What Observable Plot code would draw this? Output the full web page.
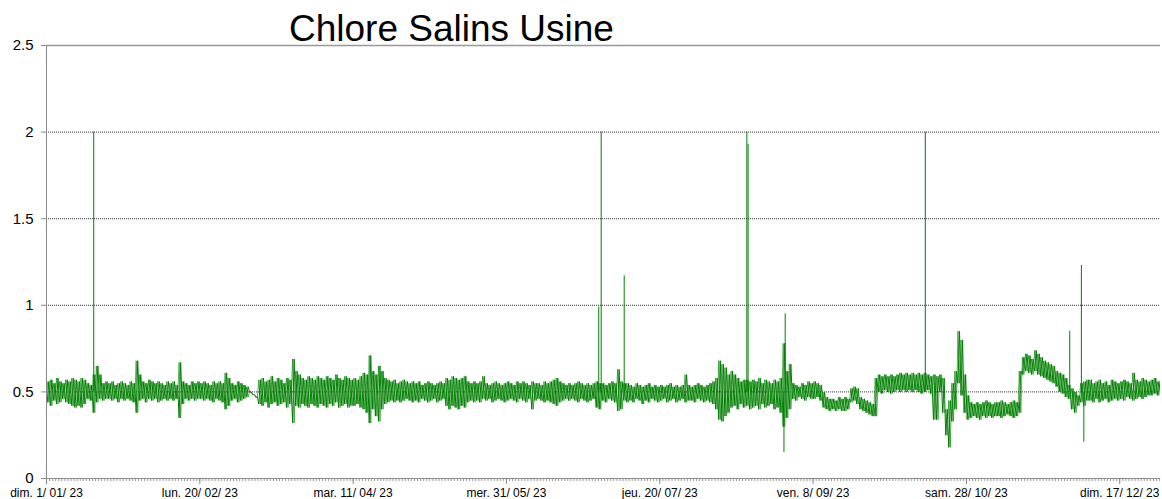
<!DOCTYPE html>
<html>
<head>
<meta charset="utf-8">
<script src="https://cdn.jsdelivr.net/npm/d3@7"></script>
<script src="https://cdn.jsdelivr.net/npm/@observablehq/plot@0.6"></script>
<style>
  html, body { margin: 0; padding: 0; background: #fff; }
  #wrap { position: relative; width: 1162px; height: 499px; }
  #title { position: absolute; left: 289px; top: 10px; font: 37px/37px "Liberation Sans", Arial, sans-serif; color: #000; white-space: nowrap; }
  #chart { position: absolute; left: 0; top: 0; }
</style>
</head>
<body>
<div id="wrap">
  <div id="chart"></div>
  <div id="title">Chlore Salins Usine</div>
</div>
<script>
// Daily high / low readings (mg/l), one pair per day from 1 Jan 2023
const dailyHigh = [
  0.56,0.57,0.55,0.58,0.56,0.55,0.57,0.56,0.58,0.57,
  0.56,0.58,0.57,0.55,0.54,0.60,0.65,0.60,0.55,0.56,
  0.55,0.56,0.54,0.55,0.56,0.55,0.54,0.56,0.55,0.68,
  0.60,0.56,0.55,0.57,0.56,0.55,0.56,0.55,0.54,0.56,
  0.55,0.56,0.54,0.67,0.56,0.55,0.54,0.56,0.55,0.56,
  0.55,0.56,0.55,0.54,0.56,0.55,0.56,0.55,0.61,0.58,
  0.55,0.54,0.56,0.55,0.54,0.53,0.50,0.485,0.47,0.57,
  0.58,0.56,0.57,0.59,0.56,0.58,0.57,0.55,0.58,0.57,
  0.69,0.62,0.60,0.58,0.57,0.59,0.58,0.57,0.59,0.58,
  0.57,0.59,0.58,0.57,0.60,0.58,0.57,0.59,0.58,0.57,
  0.58,0.57,0.59,0.61,0.60,0.71,0.62,0.60,0.65,0.62,
  0.58,0.57,0.56,0.57,0.55,0.56,0.57,0.56,0.55,0.56,
  0.55,0.56,0.54,0.55,0.56,0.55,0.54,0.55,0.56,0.55,
  0.58,0.57,0.59,0.58,0.57,0.58,0.59,0.56,0.55,0.56,
  0.55,0.56,0.59,0.55,0.54,0.55,0.56,0.55,0.54,0.55,
  0.56,0.55,0.54,0.56,0.55,0.56,0.55,0.54,0.56,0.55,
  0.55,0.54,0.56,0.55,0.56,0.57,0.58,0.56,0.55,0.54,
  0.55,0.54,0.55,0.56,0.55,0.54,0.55,0.54,0.55,0.56,
  0.55,0.55,0.54,0.55,0.56,0.55,0.63,0.56,0.55,0.55,
  0.54,0.53,0.55,0.54,0.53,0.54,0.55,0.53,0.54,0.53,
  0.54,0.53,0.54,0.55,0.53,0.54,0.53,0.54,0.60,0.54,
  0.53,0.54,0.55,0.54,0.53,0.54,0.55,0.56,0.58,0.68,
  0.66,0.64,0.60,0.62,0.60,0.58,0.56,0.57,0.57,0.56,
  0.57,0.56,0.58,0.55,0.57,0.56,0.55,0.57,0.56,0.58,
  0.78,0.62,0.66,0.55,0.54,0.53,0.55,0.54,0.56,0.55,
  0.56,0.55,0.54,0.50,0.47,0.46,0.46,0.45,0.47,0.46,
  0.47,0.46,0.52,0.53,0.52,0.47,0.46,0.45,0.44,0.43,
  0.58,0.60,0.59,0.60,0.59,0.60,0.59,0.60,0.61,0.60,
  0.61,0.60,0.61,0.60,0.61,0.60,0.61,0.60,0.59,0.60,
  0.59,0.60,0.58,0.40,0.45,0.55,0.62,0.85,0.80,0.60,
  0.48,0.44,0.43,0.44,0.43,0.44,0.45,0.44,0.43,0.44,
  0.44,0.45,0.44,0.43,0.44,0.45,0.44,0.62,0.70,0.72,
  0.71,0.69,0.74,0.72,0.70,0.68,0.67,0.66,0.65,0.62,
  0.61,0.60,0.58,0.54,0.52,0.50,0.48,0.55,0.56,0.57,
  0.57,0.55,0.56,0.57,0.55,0.56,0.54,0.57,0.56,0.55,
  0.56,0.57,0.56,0.55,0.61,0.57,0.56,0.58,0.57,0.56,
  0.57,0.58,0.56,0.57
];
const dailyLow = [
  0.44,0.42,0.45,0.43,0.44,0.46,0.44,0.43,0.42,0.41,
  0.42,0.41,0.43,0.46,0.45,0.38,0.44,0.46,0.45,0.46,
  0.46,0.45,0.46,0.44,0.46,0.45,0.46,0.45,0.44,0.38,
  0.45,0.46,0.44,0.46,0.45,0.46,0.44,0.45,0.46,0.45,
  0.46,0.45,0.46,0.35,0.43,0.46,0.45,0.46,0.45,0.46,
  0.46,0.45,0.46,0.45,0.44,0.46,0.45,0.44,0.40,0.42,
  0.45,0.46,0.44,0.45,0.46,0.47,0.50,0.485,0.47,0.43,
  0.42,0.44,0.41,0.43,0.44,0.42,0.43,0.44,0.41,0.43,
  0.32,0.42,0.41,0.43,0.42,0.41,0.43,0.42,0.41,0.43,
  0.42,0.41,0.43,0.42,0.44,0.41,0.42,0.43,0.41,0.42,
  0.42,0.43,0.41,0.40,0.38,0.32,0.40,0.36,0.33,0.40,
  0.43,0.44,0.45,0.44,0.45,0.44,0.45,0.46,0.45,0.44,
  0.45,0.44,0.46,0.45,0.44,0.45,0.46,0.44,0.45,0.46,
  0.42,0.40,0.42,0.41,0.40,0.42,0.41,0.44,0.45,0.44,
  0.45,0.44,0.46,0.45,0.46,0.44,0.45,0.46,0.45,0.44,
  0.45,0.46,0.45,0.44,0.46,0.45,0.44,0.46,0.40,0.45,
  0.46,0.45,0.44,0.45,0.44,0.43,0.42,0.44,0.45,0.46,
  0.45,0.46,0.45,0.44,0.46,0.45,0.44,0.45,0.46,0.41,
  0.40,0.45,0.44,0.46,0.45,0.44,0.39,0.40,0.45,0.44,
  0.45,0.44,0.46,0.45,0.43,0.45,0.44,0.46,0.45,0.44,
  0.45,0.46,0.44,0.45,0.46,0.44,0.45,0.46,0.44,0.45,
  0.45,0.44,0.46,0.45,0.44,0.45,0.44,0.43,0.40,0.34,
  0.33,0.36,0.38,0.41,0.42,0.40,0.43,0.41,0.42,0.40,
  0.41,0.42,0.40,0.43,0.41,0.42,0.43,0.40,0.41,0.38,
  0.30,0.35,0.40,0.46,0.45,0.47,0.46,0.45,0.47,0.46,
  0.46,0.47,0.45,0.41,0.40,0.39,0.40,0.39,0.40,0.39,
  0.39,0.40,0.44,0.45,0.43,0.40,0.39,0.38,0.37,0.36,
  0.36,0.50,0.49,0.51,0.50,0.49,0.50,0.51,0.50,0.51,
  0.50,0.51,0.50,0.51,0.50,0.49,0.50,0.51,0.49,0.34,
  0.34,0.50,0.38,0.25,0.18,0.33,0.40,0.55,0.48,0.38,
  0.34,0.35,0.36,0.35,0.34,0.36,0.35,0.36,0.35,0.36,
  0.36,0.35,0.36,0.37,0.36,0.35,0.36,0.38,0.60,0.62,
  0.61,0.60,0.62,0.60,0.59,0.58,0.57,0.56,0.55,0.53,
  0.50,0.49,0.47,0.46,0.40,0.38,0.42,0.44,0.42,0.45,
  0.45,0.44,0.46,0.44,0.45,0.46,0.44,0.45,0.46,0.45,
  0.46,0.45,0.47,0.46,0.45,0.46,0.47,0.46,0.47,0.48,
  0.48,0.49,0.48,0.50
];
// Short isolated excursions: day offset from 1 Jan (fractional) and reading
const spikeDays   = [15.4, 180.1, 180.9, 188.4, 228.4, 228.8, 240.5, 240.9, 286.6, 333.7, 337.5, 338.3];
const spikeValues = [2.00, 0.99,  2.00,  1.17,  2.00,  1.93,  0.15,  0.95,  2.00,  0.85,  1.23,  0.21];
const yTicks = [0, 0.5, 1, 1.5, 2, 2.5];
const gridValues = [0.5, 1, 1.5, 2];
const majorTickDates = ["2023-01-01","2023-02-20","2023-04-11","2023-05-31","2023-07-20","2023-09-08","2023-10-28","2023-12-17"];
const majorTickLabels = ["dim. 1/ 01/ 23","lun. 20/ 02/ 23","mar. 11/ 04/ 23","mer. 31/ 05/ 23","jeu. 20/ 07/ 23","ven. 8/ 09/ 23","sam. 28/ 10/ 23","dim. 17/ 12/ 23"];

const DAY = 864e5;
const start = Date.UTC(2023, 0, 1);
const pathA = dailyHigh.flatMap((h, i) => [
  {t: new Date(start + (i + 0.25) * DAY), v: dailyLow[i]},
  {t: new Date(start + (i + 0.75) * DAY), v: h}
]);
const pathB = dailyHigh.flatMap((h, i) => [
  {t: new Date(start + (i + 0.25) * DAY), v: h},
  {t: new Date(start + (i + 0.75) * DAY), v: dailyLow[i]}
]);
const spikes = spikeDays.map((d, i) => ({t: new Date(start + d * DAY), v: spikeValues[i]}));
const majorDates = majorTickDates.map(s => new Date(s + "T00:00:00Z"));
const labelByTime = new Map(majorDates.map((d, i) => [+d, majorTickLabels[i]]));
const xDomain = [new Date(start), new Date(start + 363.3 * DAY)];
const minorDates = d3.utcDay.range(xDomain[0], xDomain[1]);

const chart = Plot.plot({
  width: 1162,
  height: 499,
  marginLeft: 46,
  marginRight: 2,
  marginTop: 45,
  marginBottom: 21,
  style: {fontFamily: "'Liberation Sans', Arial, sans-serif", fontSize: "12px", color: "#000", background: "white"},
  x: {type: "utc", domain: xDomain},
  y: {domain: [0, 2.5]},
  marks: [
    Plot.ruleY(gridValues, {stroke: "#333", strokeWidth: 1, strokeDasharray: "1,1"}),
    Plot.ruleY([2.5], {stroke: "#999", strokeWidth: 1.5}),
    Plot.line(pathA, {x: "t", y: "v", stroke: "#008000", strokeWidth: 1, clip: true}),
    Plot.line(pathB, {x: "t", y: "v", stroke: "#0a850a", strokeWidth: 0.8, strokeOpacity: 0.85, clip: true}),
    Plot.ruleX(spikes, {x: "t", y1: 0.5, y2: "v", stroke: "#008000", strokeWidth: 1}),
    Plot.frame({anchor: "left", stroke: "#888"}),
    Plot.ruleY([0], {stroke: "#888"}),
    Plot.axisY({ticks: yTicks, tickSize: 5, tickPadding: 8, fontSize: 15, tickFormat: d => String(d), stroke: "#888", label: null}),
    Plot.axisX({ticks: minorDates, tickSize: 3, tickFormat: () => "", stroke: "#999", label: null}),
    Plot.axisX({ticks: majorDates, tickSize: 6, tickPadding: 4, tickFormat: d => labelByTime.get(+d), fontSize: 12, stroke: "#888", label: null})
  ]
});
document.getElementById("chart").appendChild(chart);
</script>
</body>
</html>
